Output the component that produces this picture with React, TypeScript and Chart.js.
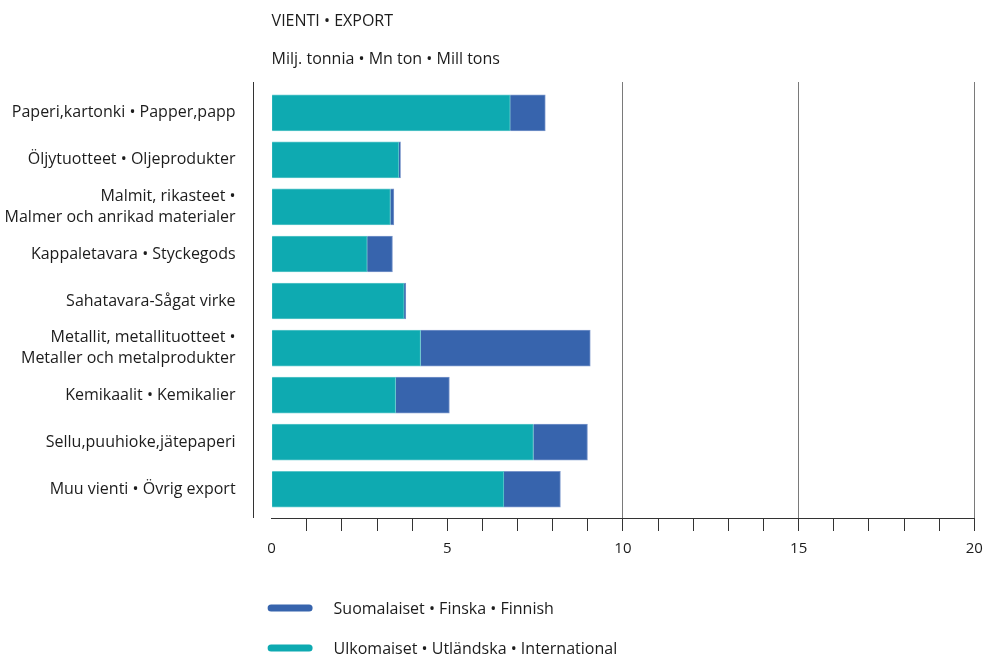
import React, { useEffect, useRef } from "react";
import { Chart, registerables } from "chart.js";

Chart.register(...registerables);

const categories: (string | string[])[] = [
  "Paperi,kartonki • Papper,papp",
  "Öljytuotteet • Oljeprodukter",
  ["Malmit, rikasteet •", "Malmer och anrikad materialer"],
  "Kappaletavara • Styckegods",
  "Sahatavara-Sågat virke",
  ["Metallit, metallituotteet •", "Metaller och metalprodukter"],
  "Kemikaalit • Kemikalier",
  "Sellu,puuhioke,jätepaperi",
  "Muu vienti • Övrig export",
];

const international = [6.79, 3.62, 3.38, 2.72, 3.77, 4.24, 3.53, 7.45, 6.61];
const finnish = [1.0, 0.05, 0.1, 0.72, 0.05, 4.83, 1.53, 1.54, 1.61];

const title = "VIENTI • EXPORT";
const subtitle = "Milj. tonnia • Mn ton • Mill tons";
const finnishLabel = "Suomalaiset • Finska • Finnish";
const internationalLabel = "Ulkomaiset • Utländska • International";

const xMin = 0;
const xMax = 20;
const xLabelStep = 5;
const gridValues = [10, 15, 20];

const TEAL = "#0eaab1";
const BLUE = "#3764ad";
const FONT = "'Open Sans', 'Noto Sans', sans-serif";
const TEXT = "#1c1c1c";

const decorPlugin = {
  id: "decor",
  afterDraw(chart: any) {
    const { ctx, chartArea } = chart;
    ctx.save();
    // detached y axis line
    ctx.strokeStyle = "#333";
    ctx.lineWidth = 1;
    const ax = Math.round(chartArea.left - 19) + 0.5;
    ctx.beginPath();
    ctx.moveTo(ax, chartArea.top);
    ctx.lineTo(ax, chartArea.bottom);
    ctx.stroke();

    // title & subtitle
    ctx.fillStyle = TEXT;
    ctx.font = `16px ${FONT}`;
    ctx.textAlign = "left";
    ctx.textBaseline = "middle";
    ctx.fillText(title, chartArea.left, 21);
    ctx.fillText(subtitle, chartArea.left, 59);

    // legend
    const items = [
      { label: finnishLabel, color: BLUE, y: 608 },
      { label: internationalLabel, color: TEAL, y: 648 },
    ];
    items.forEach((it) => {
      ctx.fillStyle = it.color;
      const x0 = chartArea.left - 4;
      const w = 45;
      const h = 7;
      ctx.beginPath();
      ctx.roundRect(x0, it.y - h / 2, w, h, h / 2);
      ctx.fill();
      ctx.fillStyle = TEXT;
      ctx.fillText(it.label, x0 + 66, it.y + 1);
    });
    ctx.restore();
  },
};

export default function App() {
  const ref = useRef<HTMLCanvasElement>(null);

  useEffect(() => {
    if (!ref.current) return;
    const chart = new Chart(ref.current, {
      type: "bar",
      data: {
        labels: categories,
        datasets: [
          {
            label: internationalLabel,
            data: international,
            backgroundColor: TEAL,
            borderColor: "#5cc6ca",
            borderWidth: 1,
            barThickness: 36,
          },
          {
            label: finnishLabel,
            data: finnish,
            backgroundColor: BLUE,
            borderColor: "#7a96cb",
            borderWidth: 1,
            barThickness: 36,
          },
        ],
      },
      options: {
        indexAxis: "y",
        responsive: false,
        animation: false,
        devicePixelRatio: 1,
        layout: { padding: { left: 0, right: 13.7, top: 82, bottom: 91 } },
        plugins: {
          legend: { display: false },
          tooltip: { enabled: false },
          title: { display: false },
        },
        scales: {
          x: {
            stacked: true,
            min: xMin,
            max: xMax,
            afterFit: (s: any) => {
              s.paddingLeft = 0;
              s.paddingRight = 0;
            },
            border: { display: true, color: "#333", width: 1 },
            grid: {
              color: (c: any) =>
                c.tick && gridValues.includes(c.tick.value) ? "#7a7a7a" : "rgba(0,0,0,0)",
              tickColor: (c: any) =>
                c.tick && c.tick.value === xMin ? "rgba(0,0,0,0)" : "#333",
              tickLength: 13,
              lineWidth: 1,
            },
            ticks: {
              stepSize: 1,
              autoSkip: false,
              maxRotation: 0,
              padding: 9,
              color: TEXT,
              font: { family: FONT, size: 15 },
              callback: (v: any) => (Number(v) % xLabelStep === 0 ? String(v) : ""),
            },
          },
          y: {
            stacked: true,
            grid: { display: false, drawTicks: false },
            border: { display: false },
            afterFit: (s: any) => {
              s.width = 271.6;
            },
            afterBuildTicks: (s: any) => {
              s._valueRange = 9.267;
              s._startValue = -0.655;
            },
            ticks: {
              padding: 36,
              color: TEXT,
              font: { family: FONT, size: 16, lineHeight: 1.31 },
            },
          },
        },
      },
      plugins: [decorPlugin],
    });
    return () => chart.destroy();
  }, []);

  return (
    <div style={{ position: "absolute", left: 0, top: 0, width: 988, height: 658, background: "#fff" }}>
      <canvas ref={ref} width={988} height={658} />
    </div>
  );
}
